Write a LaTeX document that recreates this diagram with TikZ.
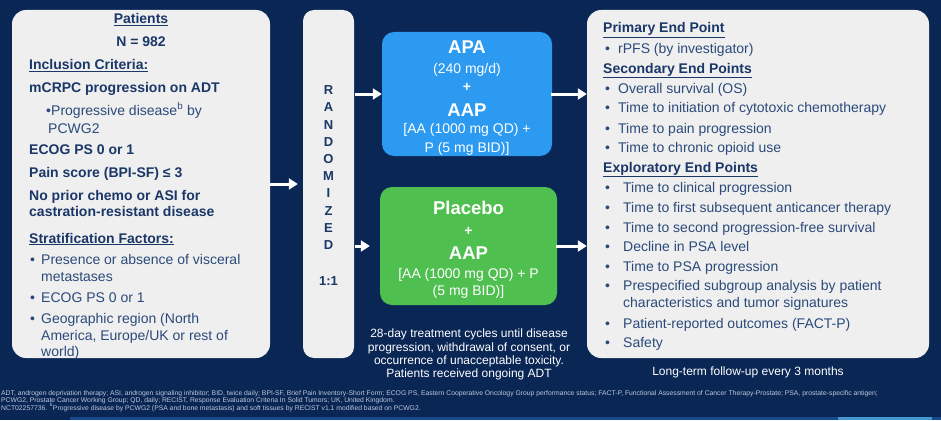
\documentclass[tikz,border=0pt]{standalone}
\usepackage{fontspec}
\setmainfont{Liberation Sans}
\usetikzlibrary{arrows.meta}
\definecolor{bgblue}{HTML}{092655}
\definecolor{boxgray}{HTML}{EFEFEF}
\definecolor{navy}{HTML}{1A3768}
\definecolor{txtblue}{HTML}{2B4A7A}
\definecolor{apablue}{HTML}{2B9AF0}
\definecolor{plgreen}{HTML}{4FBF4F}
\definecolor{footgray}{HTML}{BFC9DA}
\newcommand\myfb{\fontsize{14}{16}\selectfont\bfseries}
\newcommand\myfr{\fontsize{14}{16}\selectfont}
\newcommand\myfbig{\fontsize{18.5}{20}\selectfont\bfseries}
\newcommand\myfs{\fontsize{12}{13}\selectfont}
\newcommand\myfrand{\fontsize{13}{14}\selectfont\bfseries}
\newcommand\myffoot{\fontsize{6.8}{7.5}\selectfont}
\begin{document}
\begin{tikzpicture}[x=1pt,y=-1pt,
  box/.style={fill=boxgray,draw=none,rounded corners=14pt,inner sep=0pt},
  lft/.style={anchor=base west,inner sep=0pt},
  ctr/.style={anchor=base,inner sep=0pt},
  hb/.style={lft,font=\myfb,text=navy},
  rt/.style={lft,font=\myfr,text=txtblue},
  hbc/.style={ctr,font=\myfb,text=navy},
  rl/.style={ctr,font=\myfrand,text=navy},
  wbig/.style={ctr,font=\myfbig,text=white},
  wr/.style={ctr,font=\myfr,text=white},
  wb/.style={ctr,font=\myfb,text=white},
  ws/.style={ctr,font=\myfs,text=white},
  foot/.style={lft,font=\myffoot,text=footgray},
  arr/.style={draw=white,line width=3pt,-{Triangle[length=9pt,width=11pt]}}]
\useasboundingbox (0,0) rectangle (941,420);
\fill[bgblue] (0,0) rectangle (941,420);
\fill[fill={rgb,255:red,22;green,74;blue,140}] (70,417) rectangle (941,420);
\fill[fill={rgb,255:red,70;green,150;blue,210}] (838,417) rectangle (932,420);

% boxes
\node[box,minimum width=258pt,minimum height=348pt] (left) at (141,184) {};
\node[box,rounded corners=11pt,minimum width=51pt,minimum height=348pt] (rand) at (328.5,184) {};
\node[box,fill=apablue,rounded corners=12pt,minimum width=170pt,minimum height=124pt] (apa) at (467,94) {};
\node[box,fill=plgreen,rounded corners=12pt,minimum width=177pt,minimum height=118pt] (pla) at (468.5,246) {};
\node[box,minimum width=342pt,minimum height=348pt] (right) at (758,184) {};

% arrows
\draw[arr,shorten <=-1pt,shorten >=5pt] (left.east) -- (rand.west);
\draw[arr,shorten <=1pt] (rand.east |- apa.west) -- (apa.west);
\draw[arr,shorten <=1pt,shorten >=10pt] (rand.east |- pla.west) -- (pla.west);
\draw[arr,shorten <=-1pt] (apa.east) -- (right.west |- apa.east);
\draw[arr,shorten <=-1pt] (pla.east) -- (right.west |- pla.east);

% left box text
\node[hbc] (l1) at (141,24) {\underline{Patients}};
\node[hbc] (l2) at (141,47) {N = 982};
\node[hb] (l3) at (29,70) {\underline{Inclusion Criteria:}};
\node[hb] (l4) at (29,92) {mCRPC progression on ADT};
\node[rt] (l5b) at (46,115) {•};
\node[rt] (l5) at (51,115) {Progressive disease\textsuperscript{b} by};
\node[rt] (l6) at (48,133) {PCWG2};
\node[hb] (l7) at (29,154) {ECOG PS 0 or 1};
\node[hb] (l8) at (29,177) {Pain score (BPI-SF) ≤ 3};
\node[hb] (l9) at (29,200) {No prior chemo or ASI for};
\node[hb] (l10) at (29,216) {castration-resistant disease};
\node[hb] (l11) at (29,243) {\underline{Stratification Factors:}};
\node[rt] (l12b) at (30,264) {•};
\node[rt] (l12) at (41,264) {Presence or absence of visceral};
\node[rt] (l13) at (41,281) {metastases};
\node[rt] (l14b) at (30,302) {•};
\node[rt] (l14) at (41,302) {ECOG PS 0 or 1};
\node[rt] (l15b) at (30,323) {•};
\node[rt] (l15) at (41,323) {Geographic region (North};
\node[rt] (l16) at (41,340) {America, Europe/UK or rest of};
\node[rt] (l17) at (41,356) {world)};

% randomized
\node[rl] (r1) at (328.5,94.7) {R};
\node[rl] (r2) at (328.5,111.9) {A};
\node[rl] (r3) at (328.5,129.1) {N};
\node[rl] (r4) at (328.5,146.3) {D};
\node[rl] (r5) at (328.5,163.5) {O};
\node[rl] (r6) at (328.5,180.7) {M};
\node[rl] (r7) at (328.5,197.9) {I};
\node[rl] (r8) at (328.5,215.1) {Z};
\node[rl] (r9) at (328.5,232.3) {E};
\node[rl] (r10) at (328.5,249.5) {D};
\node[rl] (r11) at (328.5,285.7) {1:1};

% APA box
\node[wbig] (a1) at (467,53.5) {APA};
\node[wr] (a2) at (467,73) {(240 mg/d)};
\node[wb] (a3) at (467,91) {+};
\node[wbig] (a4) at (467,116.5) {AAP};
\node[wr] (a5) at (467,133) {[AA (1000 mg QD) +};
\node[wr] (a6) at (467,152) {P (5 mg BID)]};

% placebo box
\node[wbig] (p1) at (468.5,214.5) {Placebo};
\node[wb] (p2) at (468.5,235) {+};
\node[wbig] (p3) at (468.5,259.5) {AAP};
\node[wr] (p4) at (468.5,278) {[AA (1000 mg QD) + P};
\node[wr] (p5) at (468.5,295) {(5 mg BID)]};

% middle note
\node[ws] (m1) at (469,337) {28-day treatment cycles until disease};
\node[ws] (m2) at (469,351) {progression, withdrawal of consent, or};
\node[ws] (m3) at (469,364) {occurrence of unacceptable toxicity.};
\node[ws] (m4) at (469,377) {Patients received ongoing ADT};

% right box
\node[hb] (e1) at (603,33) {\underline{Primary End Point}};
\node[rt] (e2b) at (605,54) {•};
\node[rt] (e2) at (618,54) {rPFS (by investigator)};
\node[hb] (e3) at (603,73) {\underline{Secondary End Points}};
\node[rt] (e4b) at (605,93) {•};
\node[rt] (e4) at (618,93) {Overall survival (OS)};
\node[rt] (e5b) at (605,112) {•};
\node[rt] (e5) at (618,112) {Time to initiation of cytotoxic chemotherapy};
\node[rt] (e6b) at (605,133) {•};
\node[rt] (e6) at (618,133) {Time to pain progression};
\node[rt] (e7b) at (605,152) {•};
\node[rt] (e7) at (618,152) {Time to chronic opioid use};
\node[hb] (e8) at (603,172) {\underline{Exploratory End Points}};
\node[rt] (e9b) at (605,192) {•};
\node[rt] (e9) at (623,192) {Time to clinical progression};
\node[rt] (e10b) at (605,212) {•};
\node[rt] (e10) at (623,212) {Time to first subsequent anticancer therapy};
\node[rt] (e11b) at (605,232) {•};
\node[rt] (e11) at (623,232) {Time to second progression-free survival};
\node[rt] (e12b) at (605,251) {•};
\node[rt] (e12) at (623,251) {Decline in PSA level};
\node[rt] (e13b) at (605,271) {•};
\node[rt] (e13) at (623,271) {Time to PSA progression};
\node[rt] (e14b) at (605,290) {•};
\node[rt] (e14) at (623,290) {Prespecified subgroup analysis by patient};
\node[rt] (e15) at (623,307) {characteristics and tumor signatures};
\node[rt] (e16b) at (605,328) {•};
\node[rt] (e16) at (623,328) {Patient-reported outcomes (FACT-P)};
\node[rt] (e17b) at (605,347) {•};
\node[rt] (e17) at (623,347) {Safety};

\node[ws] (lt) at (748,375) {Long-term follow-up every 3 months};

% footnotes
\node[foot] (f1) at (1,395) {ADT, androgen deprivation therapy; ASI, androgen signaling inhibitor; BID, twice daily; BPI-SF, Brief Pain Inventory-Short Form; ECOG PS, Eastern Cooperative Oncology Group performance status; FACT-P, Functional Assessment of Cancer Therapy-Prostate; PSA, prostate-specific antigen;};
\node[foot] (f2) at (1,402.5) {PCWG2, Prostate Cancer Working Group; QD, daily; RECIST, Response Evaluation Criteria In Solid Tumors; UK, United Kingdom.};
\node[foot] (f3) at (1,410) {NCT02257736. \textsuperscript{b}Progressive disease by PCWG2 (PSA and bone metastasis) and soft tissues by RECIST v1.1 modified based on PCWG2.};
\end{tikzpicture}
\end{document}
